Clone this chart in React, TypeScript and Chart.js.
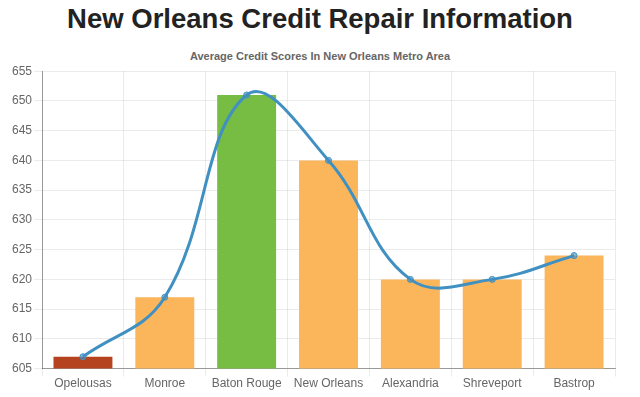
import React, { useEffect, useRef } from "react";
import { Chart, registerables } from "chart.js";

Chart.register(...registerables);

const categories = ["Opelousas", "Monroe", "Baton Rouge", "New Orleans", "Alexandria", "Shreveport", "Bastrop"];
const scores = [607, 617, 651, 640, 620, 620, 624];
const barColors = ["#b5431f", "#fbb55b", "#77bc43", "#fbb55b", "#fbb55b", "#fbb55b", "#fbb55b"];
const yMin = 605;
const yMax = 655;
const yStep = 5;

const FONT = "'Liberation Sans', Arial, sans-serif";

export default function App() {
  const ref = useRef<HTMLCanvasElement | null>(null);
  useEffect(() => {
    if (!ref.current) return;
    const chart = new Chart(ref.current, {
      type: "bar",
      data: {
        labels: categories,
        datasets: [
          {
            type: "line",
            data: scores,
            borderColor: "#4190c2",
            backgroundColor: "#4190c2",
            borderWidth: 3,
            tension: 0.4,
            pointRadius: 3,
            pointBackgroundColor: "rgba(65,144,194,0.6)",
            pointBorderColor: "#4190c2",
            pointBorderWidth: 1,
            fill: false,
            order: 0,
          } as any,
          {
            type: "bar",
            data: scores,
            backgroundColor: barColors,
            order: 1,
          },
        ],
      },
      options: {
        animation: false,
        responsive: false,
        maintainAspectRatio: false,
        layout: { padding: { left: 10, right: 25, top: 8, bottom: 6 } },
        plugins: {
          legend: { display: false },
          tooltip: { enabled: false },
          title: { display: false },
        },
        scales: {
          x: {
            grid: { color: "rgba(0,0,0,0.08)", tickLength: 8, offset: true },
            border: { color: "rgba(0,0,0,0.35)" },
            ticks: { color: "#666", font: { family: FONT, size: 12 }, padding: 0 },
          },
          y: {
            min: yMin,
            max: yMax,
            ticks: { stepSize: yStep, color: "#666", font: { family: FONT, size: 12 }, padding: 2 },
            grid: { color: "rgba(0,0,0,0.08)", tickLength: 8 },
            border: { color: "rgba(0,0,0,0.35)" },
          },
        },
      },
    });
    return () => chart.destroy();
  }, []);
  return (
    <div style={{ position: "absolute", left: 0, top: 0, width: 640, height: 397, background: "#fff" }}>
      <div
        style={{
          position: "absolute",
          left: 0,
          top: 0,
          width: 640,
          height: 40,
          lineHeight: "38px",
          textAlign: "center",
          fontFamily: FONT,
          fontWeight: "bold",
          fontSize: 27.5,
          color: "#222",
        }}
      >
        New Orleans Credit Repair Information
      </div>
      <div
        style={{
          position: "absolute",
          left: 0,
          top: 49,
          width: 640,
          height: 14,
          lineHeight: "14px",
          textAlign: "center",
          fontFamily: FONT,
          fontWeight: "bold",
          fontSize: 11,
          color: "#666",
        }}
      >
        Average Credit Scores In New Orleans Metro Area
      </div>
      <canvas
        ref={ref}
        width={640}
        height={335}
        style={{ position: "absolute", left: 0, top: 62, display: "block" }}
      />
    </div>
  );
}
